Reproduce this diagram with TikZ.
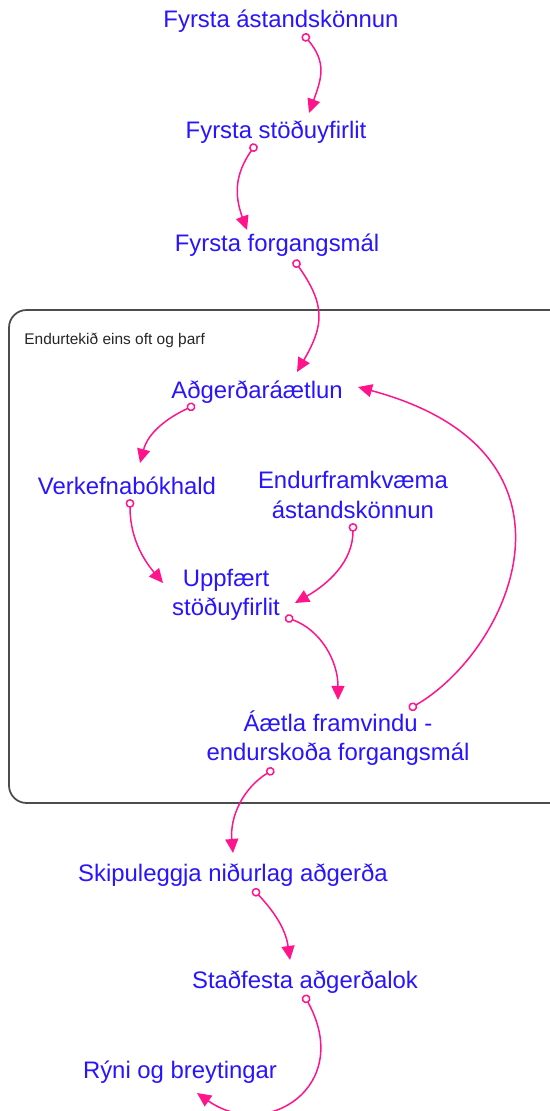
\documentclass[tikz,border=0pt]{standalone}
\usepackage{fontspec}
\setmainfont{Liberation Sans}
\usetikzlibrary{arrows.meta,calc}
\definecolor{stepblue}{RGB}{40,20,255}
\definecolor{linkpink}{RGB}{255,20,140}
\begin{document}
\begin{tikzpicture}[x=0.02cm, y=0.02cm]
            \tikzstyle{label} = [text=stepblue, font=\fontsize{13.6}{16.8}\selectfont, align=center, inner sep=0pt]
            \tikzstyle{note} = [text=black!85, font=\fontsize{8.8}{10}\selectfont, anchor=west, inner sep=0pt]
            \tikzstyle{frame} = [draw=black!70, line width=1pt, rounded corners=10]
            \tikzstyle{link} = [draw=linkpink, line width=0.85pt, {Circle[open, length=5pt, width=5pt]}-{Triangle[length=8pt, width=7.4pt]}]
            \clip (0, 0) rectangle (550, -1111);
            \draw[frame] (9, -310) rectangle (570, -803);
            \node[note] (hringur) at (24, -340) {Endurtekið eins oft og þarf};
            \node[label] (konnun) at (281, -21) {Fyrsta ástandskönnun};
            \node[label] (stada) at (276, -132) {Fyrsta stöðuyfirlit};
            \node[label] (forgang) at (277, -245) {Fyrsta forgangsmál};
            \node[label] (aaetlun) at (257, -392) {Aðgerðaráætlun};
            \node[label] (bokhald) at (127, -486) {Verkefnabókhald};
            \node[label] (endurkonnun) at (353, -495) {Endurframkvæma\\ástandskönnun};
            \node[label] (uppfaert) at (226, -595) {Uppfært\\stöðuyfirlit};
            \node[label] (framvinda) at (338, -738) {Áætla framvindu -\\endurskoða forgangsmál};
            \node[label] (nidurlag) at (233, -875) {Skipuleggja niðurlag aðgerða};
            \node[label] (lok) at (305, -982) {Staðfesta aðgerðalok};
            \node[label] (ryni) at (180, -1072) {Rýni og breytingar};
            \draw[link] ($(konnun)+(22,-13)$) to[out=-50, in=70, looseness=1.2] ($(stada)+(33,19)$);
            \draw[link] ($(stada)+(-20,-12)$) to[out=-125, in=110, looseness=1.1] ($(forgang)+(-30,15)$);
            \draw[link] ($(forgang)+(17,-15)$) to[out=-55, in=60, looseness=1.25] ($(aaetlun)+(40,20)$);
            \draw[link] ($(aaetlun)+(-62,-13)$) to[out=-155, in=75] ($(bokhald)+(13,23)$);
            \draw[link] ($(bokhald)+(3,-13)$) to[out=-90, in=130] ($(uppfaert)+(-63,12)$);
            \draw[link] ($(endurkonnun)+(0,-28)$) to[out=-90, in=30] ($(uppfaert)+(69,-8)$);
            \draw[link] ($(uppfaert)+(59,-22)$) to[out=-20, in=90] ($(framvinda)+(0,38)$);
            \draw[link] ($(framvinda)+(71,29)$) .. controls ($(framvinda)+(173,88)$) and ($(aaetlun)+(343,-60)$) .. ($(aaetlun)+(101,5)$);
            \draw[link] ($(framvinda)+(-64,-31)$) to[out=-148, in=95] ($(nidurlag)+(0,22)$);
            \draw[link] ($(nidurlag)+(20,-14)$) to[out=-47, in=98] ($(lok)+(-15,22)$);
            \draw[link] ($(lok)+(-1,-13)$) .. controls ($(lok)+(49,-104)$) and ($(ryni)+(87,-70)$) .. ($(ryni)+(17,-21)$);
\end{tikzpicture}
\end{document}
